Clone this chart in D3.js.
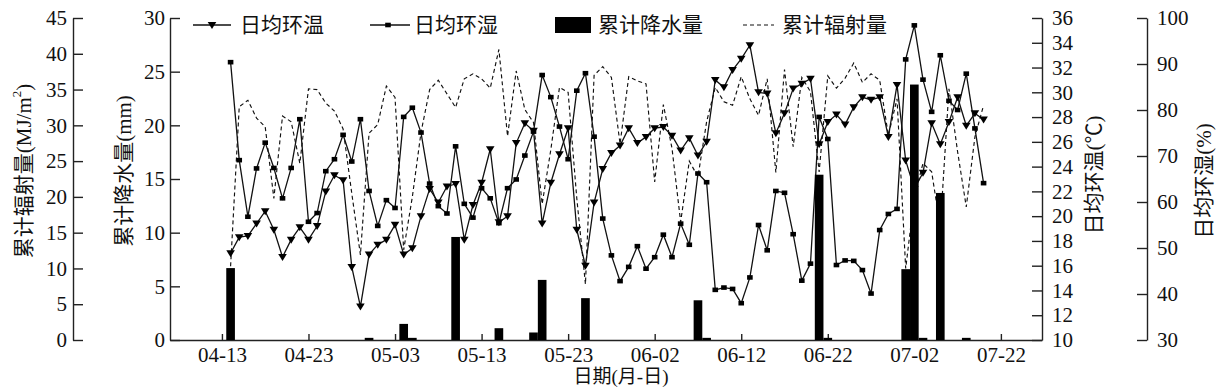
<!DOCTYPE html>
<html><head><meta charset="utf-8">
<script src="https://cdn.jsdelivr.net/npm/d3@7/dist/d3.min.js"></script>
<style>
html,body{margin:0;padding:0;background:#fff;}
svg{display:block;}
text{font-family:"Liberation Serif","Noto Sans CJK SC",serif;fill:#111;}
</style></head>
<body><svg id="c" width="1218" height="387"></svg>
<script>
// ---- data ----
const startDate = new Date(2000, 3, 14);   // 04-14
const endDate = new Date(2000, 6, 11);     // exclusive (last = 07-10)
const fmt = d3.timeFormat("%m-%d");
const dates = d3.timeDay.range(startDate, endDate).map(fmt);

const temperature = [
  17.0, 18.3, 18.4, 19.4, 20.4, 18.9, 16.7, 18.1, 19.1, 18.1,
  19.2, 22.0, 23.3, 22.9, 15.9, 12.7, 16.9, 17.7, 18.1, 19.3,
  16.9, 17.4, 20.0, 22.2, 21.1, 22.4, 22.6, 18.1, 20.9, 22.7,
  25.4, 19.5, 20.0, 25.9, 27.5, 26.9, 19.4, 22.7, 25.0, 27.1,
  18.9, 16.0, 21.1, 23.8, 25.1, 25.7, 27.1, 25.9, 26.4, 27.1,
  27.2, 26.5, 25.3, 26.3, 24.9, 26.0, 31.0, 30.4, 31.8, 32.7,
  33.8, 30.0, 29.9, 26.7, 28.3, 30.3, 30.7, 31.1, 25.8, 27.6,
  28.2, 27.4, 28.8, 29.6, 29.4, 29.6, 26.4, 30.6, 24.5, 22.2,
  23.5, 27.5, 25.8, 27.6, 29.6, 27.3, 28.3, 27.8
];
const humidity = [
  90.4, 69.1, 56.8, 67.3, 72.9, 67.4, 60.8, 67.4, 78.0, 55.7,
  57.6, 66.7, 69.3, 74.6, 68.8, 78.0, 62.4, 54.8, 60.4, 58.7,
  78.5, 80.5, 75.1, 64.0, 59.1, 57.5, 72.1, 59.6, 56.6, 63.0,
  60.8, 55.4, 63.0, 64.9, 70.1, 75.3, 87.6, 82.8, 76.4, 69.3,
  84.2, 88.0, 74.2, 56.4, 48.4, 42.8, 45.9, 50.4, 45.5, 48.0,
  52.9, 48.0, 55.3, 50.7, 66.2, 64.3, 40.9, 41.4, 41.1, 38.0,
  43.6, 55.0, 49.5, 62.4, 62.0, 53.0, 42.9, 46.6, 78.5, 73.7,
  46.3, 47.3, 47.2, 45.2, 40.1, 53.9, 57.4, 58.5, 91.0, 98.4,
  86.6, 79.6, 91.9, 82.0, 80.0, 87.9, 76.0, 64.1
];
const precipitation = [
  6.7, 0, 0, 0, 0, 0, 0, 0, 0, 0,
  0, 0, 0, 0, 0, 0, 0.2, 0, 0, 0,
  1.5, 0.2, 0, 0, 0, 0, 9.6, 0, 0, 0,
  0, 1.1, 0, 0, 0, 0.7, 5.6, 0, 0, 0,
  0, 3.9, 0, 0, 0, 0, 0, 0, 0, 0,
  0, 0, 0, 0, 3.7, 0.2, 0, 0, 0, 0,
  0, 0, 0, 0, 0, 0, 0, 0, 15.4, 0.2,
  0, 0, 0, 0, 0, 0, 0, 0, 6.6, 23.8,
  0.2, 0, 13.7, 0, 0, 0.2, 0, 0
];
const radiation = [
  10.3, 32.6, 33.5, 31.0, 29.8, 19.8, 31.3, 30.5, 24.7, 35.1,
  35.0, 33.1, 32.0, 29.5, 20.5, 11.9, 28.9, 30.1, 35.5, 33.9,
  12.6, 20.0, 29.0, 35.0, 36.3, 34.4, 32.5, 36.5, 37.2, 36.5,
  35.2, 40.6, 28.5, 37.6, 32.2, 30.4, 19.0, 26.6, 35.3, 34.6,
  19.8, 7.8, 37.0, 38.2, 36.7, 27.4, 36.8, 36.2, 35.8, 22.1,
  32.9, 26.8, 16.5, 25.0, 22.8, 30.5, 35.3, 33.3, 32.8, 36.8,
  33.7, 31.4, 36.5, 23.4, 37.8, 27.0, 36.7, 34.7, 23.5, 36.9,
  35.2, 36.6, 38.7, 36.0, 37.2, 36.3, 28.6, 33.7, 10.0, 20.0,
  24.7, 23.5, 15.8, 35.1, 26.3, 18.6, 28.4, 32.8
];
const xTickLabels = ["04-13","04-23","05-03","05-13","05-23","06-02","06-12","06-22","07-02","07-22"];
const radTicks = [0,5,10,15,20,25,30,35,40,45];
const preTicks = [0,5,10,15,20,25,30];
const tempTicks = [10,12,14,16,18,20,22,24,26,28,30,32,34,36];
const humTicks = [30,40,50,60,70,80,90,100];

const seriesNames = ["日均环温","日均环湿","累计降水量","累计辐射量"];

// ---- layout ----
const svg = d3.select("#c");
const L = 170, R = 1042, T = 18, B = 340;
const FS = 21;
const baseDate = new Date(2000, 3, 13);
const parse = d3.timeParse("%Y-%m-%d");
const dayIdx = dates.map(s => d3.timeDay.count(baseDate, parse("2000-" + s)));

const x = d3.scaleLinear().domain([-6, 94.75]).range([L, R]);
const yRad = d3.scaleLinear().domain([0, 45]).range([B, T]);
const yPre = d3.scaleLinear().domain([0, 30]).range([B, T]);
const yTemp = d3.scaleLinear().domain([10, 36]).range([B, T]);
const yHum = d3.scaleLinear().domain([30, 100]).range([B, T]);
const bw = x(1) - x(0);

function styleAxis(g){
  g.selectAll("path").attr("stroke","#222").attr("stroke-width",1.4);
  g.selectAll("line").attr("stroke","#222").attr("stroke-width",1.4);
  g.selectAll("text").attr("font-size",FS).attr("fill","#111")
    .attr("font-family",'"Liberation Serif",serif');
}

// far-left radiation axis
svg.append("g").attr("transform","translate(73,0)")
  .call(d3.axisLeft(yRad).tickValues(radTicks).tickSizeInner(-10).tickSizeOuter(0).tickPadding(6))
  .call(styleAxis);
// precipitation axis
svg.append("g").attr("transform",`translate(${L},0)`)
  .call(d3.axisLeft(yPre).tickValues(preTicks).tickSizeInner(-10).tickSizeOuter(0).tickPadding(5))
  .call(styleAxis);
// temperature axis
svg.append("g").attr("transform",`translate(${R},0)`)
  .call(d3.axisRight(yTemp).tickValues(tempTicks).tickSizeInner(-10).tickSizeOuter(0).tickPadding(10))
  .call(styleAxis);
// humidity axis
svg.append("g").attr("transform","translate(1147,0)")
  .call(d3.axisRight(yHum).tickValues(humTicks).tickSizeInner(-10).tickSizeOuter(0).tickPadding(10))
  .call(styleAxis);
// x axis
svg.append("g").attr("transform",`translate(0,${B})`)
  .call(d3.axisBottom(x).tickValues(xTickLabels.map((d,i)=>i*10))
        .tickFormat((d,i)=>xTickLabels[i]).tickSizeInner(-6).tickSizeOuter(0).tickPadding(7))
  .call(styleAxis);

// axis titles
const cjk = '"Liberation Serif","Noto Sans CJK SC",serif';
function vTitle(cx, cy, build){
  const t = svg.append("text").attr("transform",`translate(${cx},${cy}) rotate(-90)`)
    .attr("text-anchor","middle").attr("dominant-baseline","central")
    .attr("font-size",FS).attr("font-family",cjk);
  build(t);
}
vTitle(24, 171, t => {
  t.append("tspan").text("累计辐射量(MJ/m");
  t.append("tspan").attr("font-size",13).attr("dy",-8).text("2");
  t.append("tspan").attr("dy",8).text(")");
});
vTitle(124, 171, t => t.text("累计降水量(mm)"));
vTitle(1094, 175, t => t.text("日均环温(℃)"));
vTitle(1204, 181, t => t.text("日均环湿(%)"));
svg.append("text").attr("x",621).attr("y",383).attr("text-anchor","middle")
  .attr("font-size",19).attr("font-family",cjk).text("日期(月-日)");

// ---- series ----
const idx = d3.range(dates.length);
// radiation dashed
svg.append("path").datum(idx)
  .attr("fill","none").attr("stroke","#111").attr("stroke-width",1.15).attr("stroke-dasharray","4,3")
  .attr("d", d3.line().x(i=>x(dayIdx[i])).y(i=>yRad(radiation[i])));
// humidity
svg.append("path").datum(idx)
  .attr("fill","none").attr("stroke","#111").attr("stroke-width",1.3)
  .attr("d", d3.line().x(i=>x(dayIdx[i])).y(i=>yHum(humidity[i])));
svg.append("g").selectAll("rect").data(idx).join("rect")
  .attr("x",i=>x(dayIdx[i])-2.8).attr("y",i=>yHum(humidity[i])-2.3)
  .attr("width",5.6).attr("height",4.6).attr("fill","#000");
// temperature
svg.append("path").datum(idx)
  .attr("fill","none").attr("stroke","#111").attr("stroke-width",1.3)
  .attr("d", d3.line().x(i=>x(dayIdx[i])).y(i=>yTemp(temperature[i])));
const tri = "M-4.3,-3 L4.3,-3 L0,4 Z";
svg.append("g").selectAll("path").data(idx).join("path")
  .attr("transform",i=>`translate(${x(dayIdx[i])},${yTemp(temperature[i])})`)
  .attr("d",tri).attr("fill","#000");
// precipitation bars (on top)
svg.append("g").selectAll("rect").data(idx.filter(i=>precipitation[i]>0)).join("rect")
  .attr("x",i=>x(dayIdx[i])-bw/2).attr("width",bw)
  .attr("y",i=>yPre(precipitation[i])).attr("height",i=>yPre(0)-yPre(precipitation[i]))
  .attr("fill","#000");

// ---- legend ----
const lg = svg.append("g").attr("font-size",FS).attr("font-family",cjk);
const ly = 25;
// temp
lg.append("line").attr("x1",193).attr("x2",231).attr("y1",ly).attr("y2",ly).attr("stroke","#111").attr("stroke-width",1.3);
lg.append("path").attr("transform",`translate(212,${ly})`).attr("d",tri).attr("fill","#000");
lg.append("text").attr("x",240).attr("y",ly).attr("dominant-baseline","central").text(seriesNames[0]);
// humidity
lg.append("line").attr("x1",370).attr("x2",410).attr("y1",ly).attr("y2",ly).attr("stroke","#111").attr("stroke-width",1.3);
lg.append("rect").attr("x",388-2.8).attr("y",ly-2.3).attr("width",5.6).attr("height",4.6).attr("fill","#000");
lg.append("text").attr("x",414).attr("y",ly).attr("dominant-baseline","central").text(seriesNames[1]);
// precipitation
lg.append("rect").attr("x",555).attr("y",17).attr("width",36).attr("height",16).attr("fill","#000");
lg.append("text").attr("x",598).attr("y",ly).attr("dominant-baseline","central").text(seriesNames[2]);
// radiation
lg.append("line").attr("x1",743).attr("x2",774).attr("y1",ly).attr("y2",ly).attr("stroke","#111").attr("stroke-width",1.15).attr("stroke-dasharray","4,3");
lg.append("text").attr("x",782).attr("y",ly).attr("dominant-baseline","central").text(seriesNames[3]);
</script></body></html>
